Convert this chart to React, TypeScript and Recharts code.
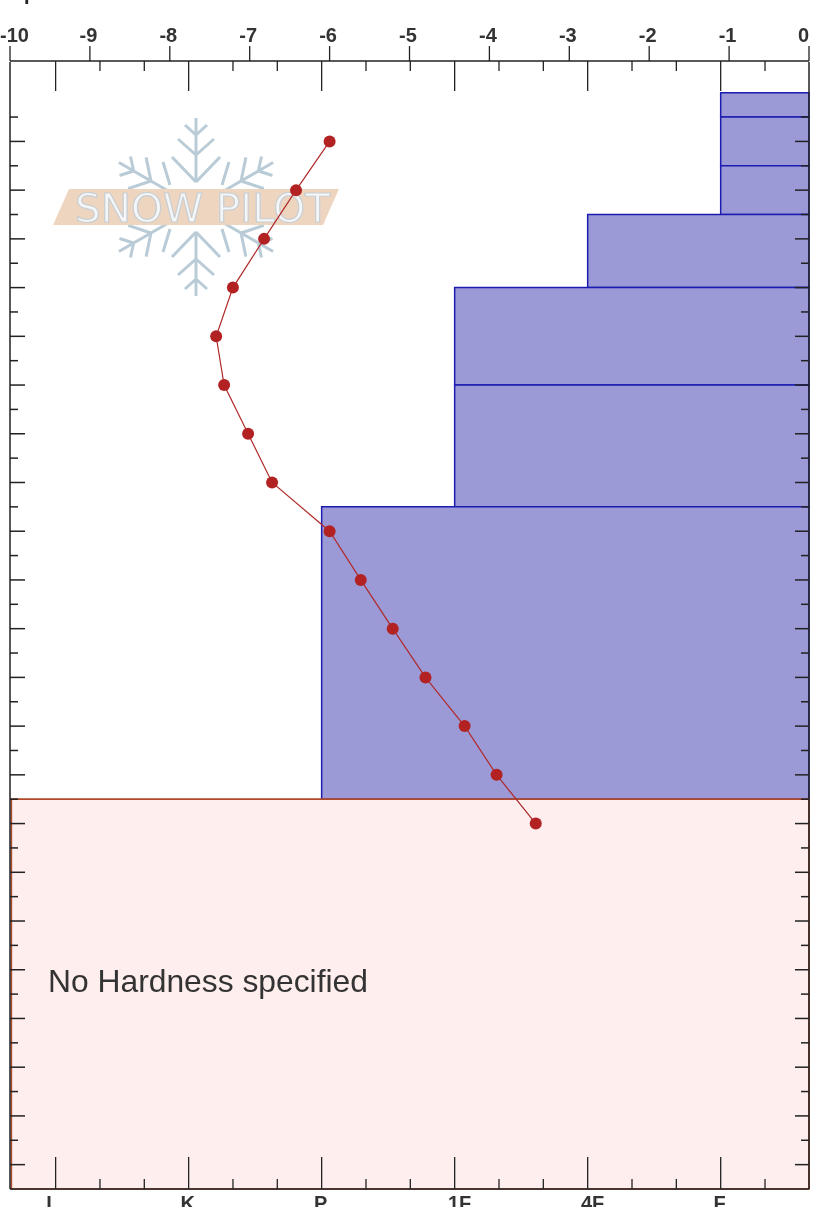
import React from 'react';
import { ComposedChart, XAxis, YAxis, Scatter, ReferenceArea, Customized } from 'recharts';

// Data
const tempTicks = [-10, -9, -8, -7, -6, -5, -4, -3, -2, -1, 0];
const hardnessLabels = ['I', 'K', 'P', '1F', '4F', 'F'];
const hardnessMajor = [0, 1, 2, 3, 4, 5];
const hardnessMinor = [1 / 3, 2 / 3, 4 / 3, 5 / 3, 7 / 3, 8 / 3, 10 / 3, 11 / 3, 13 / 3, 14 / 3, 16 / 3];
const depthTicks = [5, 10, 15, 20, 25, 30, 35, 40, 45, 50, 55, 60, 65, 70, 75, 80, 85, 90, 95, 100, 105, 110, 115, 120, 125, 130, 135, 140, 145, 150, 155, 160, 165, 170, 175, 180, 185, 190, 195, 200, 205, 210, 215, 220];
const tempDepths = [10, 20, 30, 40, 50, 60, 70, 80, 90, 100, 110, 120, 130, 140, 150];
const tempValues = [-6.0, -6.42, -6.82, -7.21, -7.42, -7.32, -7.02, -6.72, -6.0, -5.61, -5.21, -4.8, -4.31, -3.91, -3.42];
const layerTops = [0, 5, 15, 25, 40, 60, 85];
const layerBottoms = [5, 15, 25, 40, 60, 85, 145];
const layerHardness = [5, 5, 5, 4, 3, 3, 2];
const noHardnessTop = 145;
const noHardnessBottom = 225;
const noHardnessNote = 'No Hardness specified';

const tempPoints = tempDepths.map((d, i) => ({ depth: d, temp: tempValues[i] }));
const hardnessDomain: [number, number] = [-0.343, 5.664];
const depthDomain: [number, number] = [-6.3, 225];
const hardnessTicks = [...hardnessMajor, ...hardnessMinor].sort((a, b) => a - b);

const INK = '#222222';
const FONT = '"Liberation Sans", Arial, sans-serif';
const labelDx = [-6.5, -1, -1, 5, 5, -1];

const TempTick = (p: any) => {
  const v = p.payload.value;
  const anchor = v === -10 ? 'start' : v === 0 ? 'end' : 'middle';
  const tx = v === -10 ? p.x - 10 : v === 0 ? p.x : p.x - 1.5;
  return (
    <g>
      <line x1={p.x} x2={p.x} y1={61} y2={46} stroke={INK} strokeWidth={1.3} />
      <text x={tx} y={42} textAnchor={anchor} fontFamily={FONT} fontSize={20} fontWeight={700} fill="#333">{v}</text>
    </g>
  );
};
const isMajorH = (v: number) => Math.abs(v - Math.round(v)) < 0.01;
const HardTopTick = (p: any) => {
  const len = isMajorH(p.payload.value) ? 30 : 10;
  return <line x1={p.x} x2={p.x} y1={61} y2={61 + len} stroke={INK} strokeWidth={1.3} />;
};
const HardBottomTick = (p: any) => {
  const v = p.payload.value;
  const major = isMajorH(v);
  const idx = Math.round(v);
  return (
    <g>
      <line x1={p.x} x2={p.x} y1={1189} y2={1189 - (major ? 32 : 10)} stroke={INK} strokeWidth={1.3} />
      {major && (
        <text x={p.x + labelDx[idx]} y={1210} textAnchor="middle" fontFamily={FONT} fontSize={20} fontWeight={700} fill="#333">
          {hardnessLabels[idx]}
        </text>
      )}
    </g>
  );
};
const LeftTick = (p: any) => {
  const len = p.payload.value % 10 === 0 ? 15 : 8;
  return <line x1={10} x2={10 + len} y1={p.y} y2={p.y} stroke={INK} strokeWidth={1.5} />;
};
const RightTick = (p: any) => {
  const len = p.payload.value % 10 === 0 ? 14 : 8;
  return <line x1={809} x2={809 - len} y1={p.y} y2={p.y} stroke={INK} strokeWidth={1.5} />;
};

const FlakeArm = ({ angle, third }: { angle: number; third: boolean }) => (
  <g transform={`rotate(${angle})`}>
    <path d="M0,-89 L0,-25 M0,-72 L-11,-82 M0,-72 L11,-82 M0,-52 L-18,-68 M0,-52 L18,-68" />
    {third && <path d="M0,-25 L-24,-50 M0,-25 L24,-50" />}
  </g>
);

const Decor = () => (
  <g>
    <text x={24} y={0} fontFamily={FONT} fontSize={20} fontWeight={700} fill="#222">p</text>
    <g transform="translate(196,207)" stroke="#b9cbd6" strokeWidth={3} fill="none">
      <FlakeArm angle={0} third />
      <FlakeArm angle={180} third />
      <FlakeArm angle={60} third={false} />
      <FlakeArm angle={120} third={false} />
      <FlakeArm angle={240} third={false} />
      <FlakeArm angle={300} third={false} />
      <path d="M-33,-45 L-26,-22 M33,-45 L26,-22 M-33,45 L-26,22 M33,45 L26,22" />
    </g>
    <polygon points="69,189 339,189 323,225 53,225" fill="#eed5c0" />
    <text x={75} y={221.5} textLength={255} lengthAdjust="spacingAndGlyphs" fontFamily='"DejaVu Sans", sans-serif' fontSize={38.5} fill="#f5f6f7" stroke="#c9cfd3" strokeWidth={1.2}>SNOW PILOT</text>
  </g>
);

const NoteLabel = () => (
  <text x={48} y={992} fontFamily={FONT} fontSize={31.8} fill="#333">{noHardnessNote}</text>
);

export default function App() {
  return (
    <div style={{ position: 'absolute', left: 0, top: 0, width: 814, height: 1207, overflow: 'hidden', background: '#fff', filter: 'blur(0.4px)' }}>
      <ComposedChart
        width={814}
        height={1207}
        data={tempPoints}
        margin={{ top: 60, right: 4, bottom: 17, left: 9 }}
      >
        <XAxis xAxisId="temp" type="number" orientation="top" domain={[-10, 0]} ticks={tempTicks} interval={0} height={1}
          allowDataOverflow dataKey="temp" tickLine={false} tickSize={0} tickMargin={0} tick={TempTick} axisLine={{ stroke: INK, strokeWidth: 1.5 }} />
        <XAxis xAxisId="hardTop" type="number" orientation="top" domain={hardnessDomain} ticks={hardnessTicks} interval={0} height={1}
          allowDataOverflow dataKey="hard" tickLine={false} tickSize={0} tickMargin={0} tick={HardTopTick} axisLine={false} />
        <XAxis xAxisId="hard" type="number" orientation="bottom" domain={hardnessDomain} ticks={hardnessTicks} interval={0} height={1}
          allowDataOverflow dataKey="hard" tickLine={false} tickSize={0} tickMargin={0} tick={HardBottomTick} axisLine={{ stroke: INK, strokeWidth: 1.5 }} />
        <YAxis yAxisId="depth" type="number" orientation="left" reversed domain={depthDomain} ticks={depthTicks} interval={0} width={1}
          allowDataOverflow dataKey="depth" tickLine={false} tickSize={0} tickMargin={0} tick={LeftTick} axisLine={{ stroke: INK, strokeWidth: 1.5 }} />
        <YAxis yAxisId="depthRight" type="number" orientation="right" reversed domain={depthDomain} ticks={depthTicks} interval={0} width={1}
          allowDataOverflow dataKey="depth" tickLine={false} tickSize={0} tickMargin={0} tick={RightTick} axisLine={{ stroke: INK, strokeWidth: 1.5 }} />

        <Customized component={Decor} />

        {layerTops.map((t, i) => (
          <ReferenceArea key={i} xAxisId="hard" yAxisId="depth" x1={layerHardness[i]} x2={hardnessDomain[1]} y1={t} y2={layerBottoms[i]}
            fill="#9b9ad6" fillOpacity={1} stroke="#1c1cb0" strokeWidth={1.5} ifOverflow="visible" />
        ))}
        <ReferenceArea xAxisId="hard" yAxisId="depth" x1={hardnessDomain[0] + 0.01} x2={hardnessDomain[1]} y1={noHardnessTop} y2={noHardnessBottom}
          fill="#feeeee" fillOpacity={1} stroke="#b04a2a" strokeWidth={1.7} ifOverflow="visible" label={<NoteLabel />} />

        <Scatter xAxisId="temp" yAxisId="depth" data={tempPoints} dataKey="depth" isAnimationActive={false}
          line={{ stroke: '#b02a2a', strokeWidth: 1.2 }} lineType="joint"
          shape={(p: any) => <circle cx={p.cx} cy={p.cy} r={6} fill="#b22222" />} />
      </ComposedChart>
    </div>
  );
}
